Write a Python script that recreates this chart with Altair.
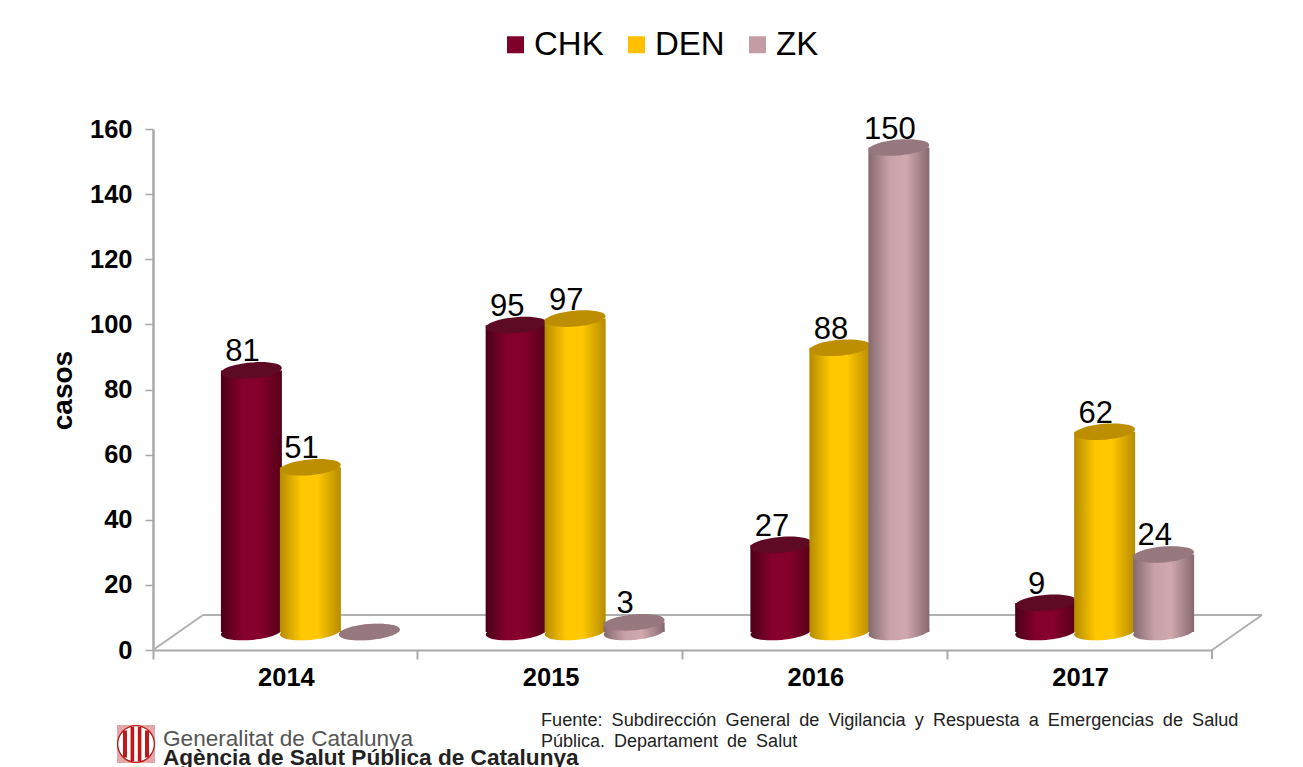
import altair as alt
import pandas as pd

years = ["2014", "2015", "2016", "2017"]
series = ["CHK", "DEN", "ZK"]
chk = [81, 95, 27, 9]
den = [51, 97, 88, 62]
zk = [0, 3, 150, 24]
legend_colors = ["#7f0029", "#ffc000", "#c49ca4"]
ramps = {
    "CHK": ("#4a0018", "#85002c", "#85002c", "#560019", "#5f0a25"),
    "DEN": ("#b58c00", "#ffc800", "#ffc800", "#b58c00", "#bd8f00"),
    "ZK": ("#85696f", "#c9a2a9", "#d0a8ae", "#85696f", "#97787e"),
}
y_ticks = [0, 20, 40, 60, 80, 100, 120, 140, 160]
source_1 = "Fuente:\u2002Subdirección\u2002General\u2002de\u2002Vigilancia\u2002y\u2002Respuesta\u2002a\u2002Emergencias\u2002de\u2002Salud"
source_2 = "Pública.\u2002Departament\u2002de\u2002Salut"
org_1 = "Generalitat de Catalunya"
org_2 = "Agència de Salut Pública de Catalunya"

df = pd.DataFrame({
    "year": years * 3,
    "series": [s for s in series for _ in years],
    "value": chk + den + zk,
})

W, H = 1059, 521
FONT = "Liberation Sans"
one = pd.DataFrame({"a": [1]})
ELLIPSE = "M-1,0 A1,0.26 0 1,1 1,0 A1,0.26 0 1,1 -1,0 Z"
BAR_DOMAIN = [-5.57, 155.73]
x_enc = alt.X("year:N", sort=years, title=None, scale=alt.Scale(paddingInner=0, paddingOuter=0),
              axis=alt.Axis(bandPosition=0, labelFontSize=25.5, labelFont=FONT, labelFontWeight="bold",
                            labelColor="black", labelAngle=0, labelPadding=6, labelAlign="center",
                            labelOffset=1, domainColor="#a8a8a8", domainWidth=2, tickColor="#a8a8a8",
                            tickWidth=2, tickSize=9))
xoff = alt.XOffset("series:N", sort=series,
                   scale=alt.Scale(domain=series, paddingInner=0, paddingOuter=0.744, align=0.785))
y_bar = alt.Y("value:Q", scale=alt.Scale(domain=BAR_DOMAIN, nice=False), axis=None)


def grad(s):
    a, b, c, d, _ = ramps[s]
    return alt.Gradient(gradient="linear", x1=0, x2=1, y1=0, y2=0,
                        stops=[alt.GradientStop(color=a, offset=0), alt.GradientStop(color=b, offset=0.35),
                               alt.GradientStop(color=c, offset=0.62), alt.GradientStop(color=d, offset=1)])


base = alt.Chart(df)

axis_layer = alt.Chart(df).mark_point(size=0, opacity=1, filled=True).encode(
    x=x_enc,
    y=alt.Y("value:Q", scale=alt.Scale(domain=[0, 160], nice=False), title="casos",
            axis=alt.Axis(values=y_ticks, labelFontSize=25.5, labelFont=FONT, labelFontWeight="bold",
                          labelColor="black", grid=False, domainColor="#a8a8a8", domainWidth=2.5,
                          tickColor="#a8a8a8", tickWidth=1.5, tickSize=8, labelPadding=13,
                          titleFont=FONT, titleFontSize=28, titleFontWeight="bold", titleColor="black",
                          titleX=-76, titleY=261)),
    color=alt.Color("series:N", scale=alt.Scale(domain=series, range=legend_colors), title=None,
                    legend=alt.Legend(orient="none", legendX=346, legendY=-101, direction="horizontal",
                                      labelFont=FONT, labelFontSize=33, labelColor="black",
                                      symbolType="square", symbolSize=289, symbolOpacity=1,
                                      symbolStrokeWidth=0, labelOffset=2, columnPadding=16, columns=3)),
)

floor_color = "#b0b0b0"
rule_df = alt.Chart(one)
floor = [
    rule_df.mark_rule(color=floor_color, strokeWidth=2).encode(x=alt.value(50), x2=alt.value(1109), y=alt.value(486), y2=alt.value(486)),
    rule_df.mark_rule(color=floor_color, strokeWidth=2).encode(x=alt.value(0), x2=alt.value(50), y=alt.value(521), y2=alt.value(486)),
    rule_df.mark_rule(color=floor_color, strokeWidth=2).encode(x=alt.value(1059), x2=alt.value(1109), y=alt.value(521), y2=alt.value(486)),
    rule_df.mark_rule(color="#a8a8a8", strokeWidth=2).encode(x=alt.value(1059), x2=alt.value(1059), y=alt.value(521), y2=alt.value(530)),
]

layers = [axis_layer] + floor
for s in series:
    d = alt.Chart(df[df.series == s])
    z = d.transform_calculate(zero="0")
    layers.append(z.mark_point(filled=True, color=grad(s), opacity=1, shape=ELLIPSE, size=3721, angle=355).encode(
        x=x_enc, xOffset=xoff, y=alt.Y("zero:Q", scale=alt.Scale(domain=BAR_DOMAIN, nice=False), axis=None)))
    layers.append(d.mark_bar(color=grad(s), width=61).encode(
        x=x_enc, xOffset=xoff, y=y_bar,
        y2=alt.Y2(datum=0)))
    layers.append(d.mark_point(filled=True, color=ramps[s][4], opacity=1, shape=ELLIPSE, size=3721, angle=355).encode(
        x=x_enc, xOffset=xoff, y=y_bar))

labels = base.transform_filter("datum.value > 0").mark_text(
    font=FONT, fontSize=31, color="black", dx=-9, dy=-18, baseline="middle").encode(
    x=x_enc, xOffset=xoff, y=y_bar, text="value:Q")
layers.append(labels)


def text(s, x, y, size, color="#000000", weight="normal"):
    return alt.Chart(pd.DataFrame({"t": [s]})).mark_text(
        font=FONT, fontSize=size, color=color, fontWeight=weight, align="left", baseline="middle").encode(
        x=alt.value(x), y=alt.value(y), text="t:N")


layers += [
    text(source_1, 388, 592, 18.15, "#222222"),
    text(source_2, 388, 613, 18, "#222222"),
    text(org_1, 10, 610, 22.6, "#555555"),
    text(org_2, 10, 629, 22.6, "#222222", "bold"),
]

# emblem
STRIPES = "M-0.72,-0.75 H-0.5 V0.75 H-0.72 Z M-0.3,-0.95 H-0.1 V0.95 H-0.3 Z M0.1,-0.95 H0.3 V0.95 H0.1 Z M0.5,-0.75 H0.72 V0.75 H0.5 Z"
ELL2 = "M-1,0 A1,1 0 1,1 1,0 A1,1 0 1,1 -1,0 Z"
SQ = "M-1,-1 H1 V1 H-1 Z"
emb = alt.Chart(one)
pos = dict(x=alt.value(-17), y=alt.value(615))
layers += [
    emb.mark_point(filled=True, color="#e3a7a7", opacity=1, shape=SQ, size=1444).encode(**pos),
    emb.mark_point(filled=False, color="#c01818", opacity=1, shape=ELL2, size=1300, strokeWidth=2).encode(**pos),
    emb.mark_point(filled=True, color="#ffffff", opacity=1, shape=ELL2, size=1250).encode(**pos),
    emb.mark_point(filled=True, color="#c01818", opacity=1, shape=STRIPES, size=1300).encode(**pos),
]

chart = alt.layer(*layers).resolve_scale(y="independent").properties(
    width=W, height=H,
    autosize=alt.AutoSizeParams(type="none"),
    padding={"left": 145, "top": 121, "right": 83, "bottom": 117},
).configure_view(strokeWidth=0)

chart.save("out.html", embed_options={"renderer": "svg", "actions": False})
